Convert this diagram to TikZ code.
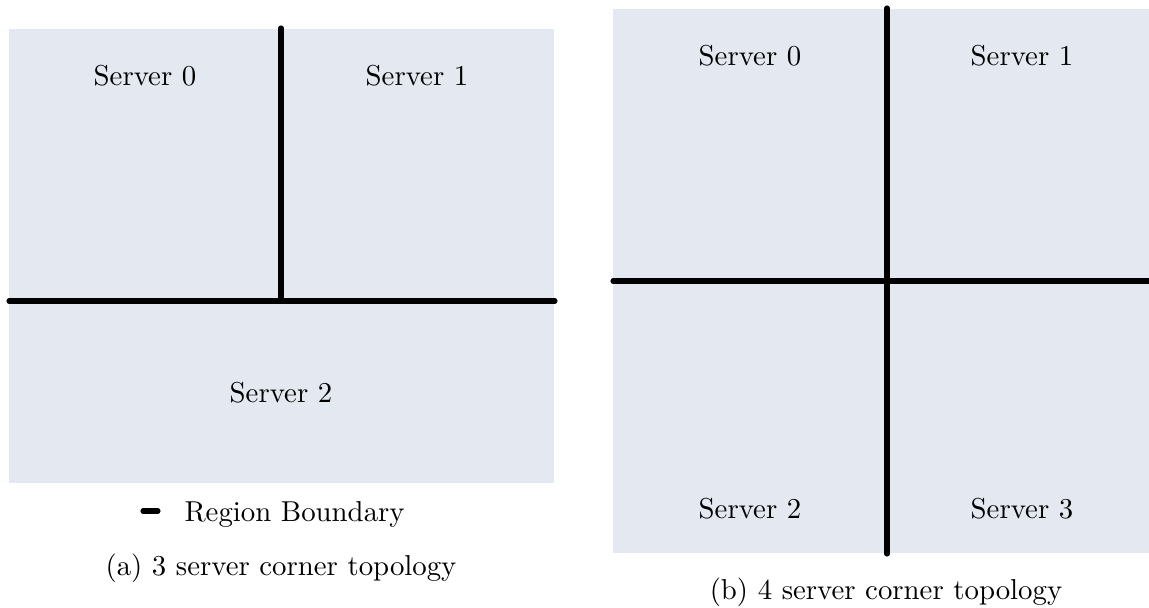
\documentclass[tikz,border=0pt]{standalone}
\usepackage{tikz}
\usetikzlibrary{positioning}
\definecolor{regionfill}{HTML}{E4E8F0}

\begin{document}
\begin{tikzpicture}[x=0.375pt,y=-0.375pt,
  boundary/.style={line width=1.9pt,line cap=round},
  lbl/.style={font=\fontsize{10.8}{13}\selectfont,inner sep=0pt,anchor=base}]
 \useasboundingbox (0,0) rectangle (1149,608);

 % (a) three servers
 \fill[regionfill] (9,29) rectangle (554,483);
 \coordinate (a-top) at (281,28);
 \coordinate (a-mid) at (281,301);
 \coordinate (a-left) at (9,301);
 \coordinate (a-right) at (555,301);
 \draw[boundary] (a-top) -- (a-mid) (a-left) -- (a-right);
 \node[lbl] (a-s0) at (145,85) {Server 0};
 \node[lbl] (a-s1) at (417,85) {Server 1};
 \node[lbl] (a-s2) at (281,402) {Server 2};

 % legend
 \coordinate (leg-l) at (143,511);
 \coordinate (leg-r) at (158,511);
 \draw[boundary] (leg-l) -- (leg-r);
 \node[lbl,anchor=base west] (leg) at (184,521) {Region Boundary};
 \node[lbl] (cap-a) at (281,575) {(a) 3 server corner topology};

 % (b) four servers
 \fill[regionfill] (613,9) rectangle (1149,553);
 \coordinate (b-top) at (887,8);
 \coordinate (b-bot) at (887,554);
 \coordinate (b-left) at (613,281);
 \coordinate (b-right) at (1149,281);
 \draw[boundary] (b-top) -- (b-bot) (b-left) -- (b-right);
 \node[lbl] (b-s0) at (750,65) {Server 0};
 \node[lbl] (b-s1) at (1022,65) {Server 1};
 \node[lbl] (b-s2) at (750,518) {Server 2};
 \node[lbl] (b-s3) at (1022,518) {Server 3};
 \node[lbl] (cap-b) at (886,599) {(b) 4 server corner topology};
\end{tikzpicture}
\end{document}
